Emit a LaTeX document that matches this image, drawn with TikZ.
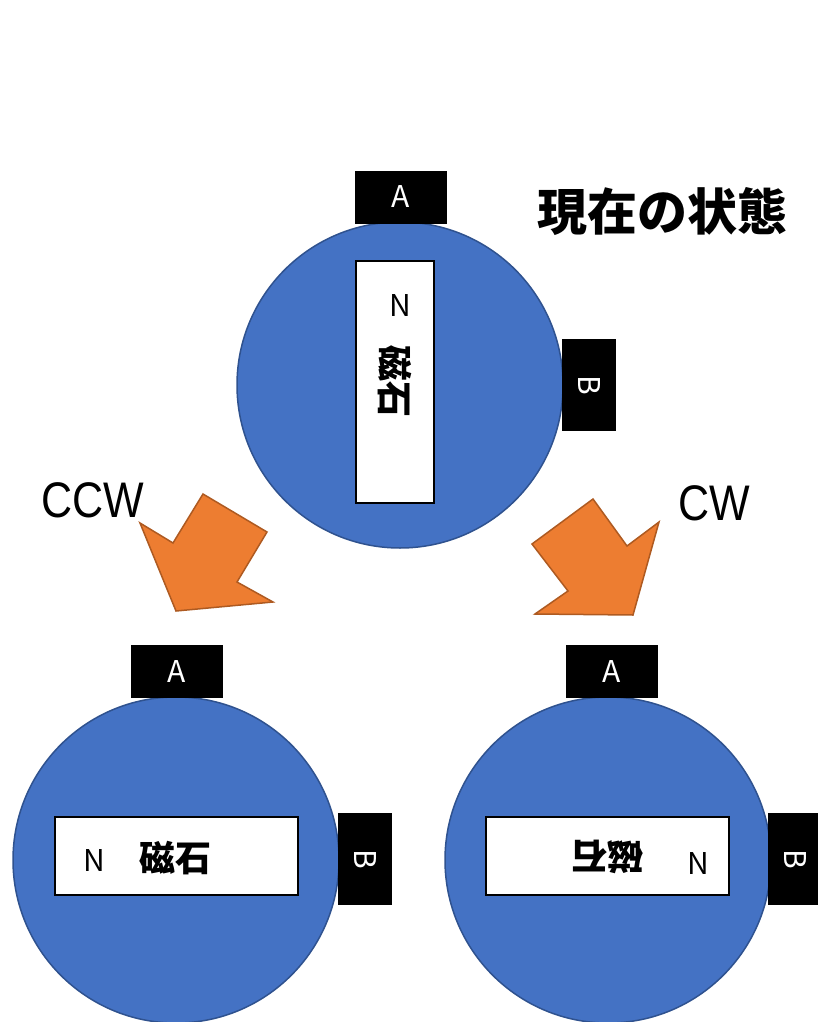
\documentclass[tikz,border=0pt]{standalone}
\usepackage{fontspec}
\setmainfont{Noto Sans CJK JP}
\newfontfamily\arialish[FakeStretch=0.86]{Liberation Sans}

\definecolor{diskblue}{HTML}{4472C4}
\definecolor{diskedge}{HTML}{2F528F}
\definecolor{turnorange}{HTML}{ED7D31}
\definecolor{turnedge}{HTML}{AE5A21}

\tikzset{
  disk/.style={circle, draw=diskedge, fill=diskblue, line width=1.5pt,
    minimum size=326pt, inner sep=0pt},
  tagA/.style={fill=black, text=white, inner sep=0pt, minimum width=92pt,
    minimum height=53pt, font=\fontsize{30}{30}\selectfont},
  tagB/.style={fill=black, text=white, inner sep=0pt, minimum width=92pt,
    minimum height=54pt, rotate=-90, font=\fontsize{30}{30}\selectfont},
  magnet/.style={draw=black, fill=white, line width=2pt, inner sep=0pt},
  pole/.style={font=\fontsize{30}{30}\selectfont},
  kanji/.style={font=\fontsize{36}{36}\selectfont\bfseries},
  turn/.style={fill=turnorange, draw=turnedge, line width=1.5pt, line join=miter},
}

\begin{document}
\begin{tikzpicture}[x=1pt,y=-1pt]
\useasboundingbox (0,0) rectangle (818,1022);

% Title
\node[font=\fontsize{50}{50}\selectfont\bfseries] (title) at (662,212) {現在の状態};

% Current state: magnet upright
\node[disk] (top) at (400,385) {};
\node[tagA] (topA) at (401,197) {A};
\node[tagB] (topB) at (589,385) {B};
\node[magnet, minimum width=78pt, minimum height=242pt] (topM) at (395,382) {};
\node[pole] (topN) at (400,306) {N};
\node[kanji, rotate=-90] (topT) at (395,381) {磁石};

% Turning arrows
\draw[turn] (203,494) -- (267,532) -- (237,582) -- (273,602) -- (176,611)
  -- (140,523) -- (173,543) -- cycle;
\draw[turn] (593,499) -- (627,546) -- (659,522) -- (633,615) -- (535,614)
  -- (568,591) -- (532,544) -- cycle;
\node[font=\fontsize{50}{50}\selectfont\arialish] (ccw) at (93,500) {CCW};
\node[font=\fontsize{50}{50}\selectfont\arialish] (cw) at (714,503) {CW};

% Counter-clockwise result
\node[disk] (left) at (176,860) {};
\node[tagA] (leftA) at (176.5,671) {A};
\node[tagB] (leftB) at (365,859) {B};
\node[magnet, minimum width=243pt, minimum height=78pt] (leftM) at (176.5,856) {};
\node[pole] (leftN) at (94,860) {N};
\node[kanji] (leftT) at (175,858) {磁石};

% Clockwise result
\node[disk] (right) at (608,860) {};
\node[tagA] (rightA) at (612,671) {A};
\node[tagB] (rightB) at (795,859) {B};
\node[magnet, minimum width=243pt, minimum height=78pt] (rightM) at (607.5,856) {};
\node[pole] (rightN) at (698,863) {N};
\node[kanji, rotate=180] (rightT) at (607,857) {磁石};

\end{tikzpicture}
\end{document}
